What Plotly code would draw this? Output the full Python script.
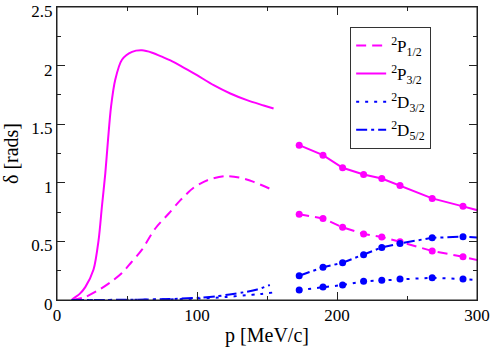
import plotly.graph_objects as go

# ---- smooth (low-momentum) curves ----
p_p32 = [10.5, 11.9, 16, 20.2, 26.1, 29.7, 32.1, 34.5, 36.4, 38.6, 41.6, 46.4, 53.6, 60.7, 68, 76, 82, 88, 100, 111.9, 123.8, 135.7, 147.6, 154.7]
d_p32 = [0.0, 0.015, 0.05, 0.11, 0.26, 0.51, 0.80, 1.08, 1.36, 1.65, 1.88, 2.05, 2.117, 2.13, 2.11, 2.07, 2.038, 2.0, 1.918, 1.833, 1.762, 1.705, 1.66, 1.634]

p_p12 = [10.5, 20, 29.7, 38, 46.4, 53, 60.7, 70.2, 80, 88, 97.8, 108, 120, 130, 140, 152]
d_p12 = [0.0, 0.025, 0.085, 0.15, 0.23, 0.32, 0.43, 0.61, 0.74, 0.85, 0.96, 1.025, 1.057, 1.045, 1.01, 0.95]

p_d32 = [10.5, 50, 80, 100, 120, 135, 145, 155]
d_d32 = [0.0, 0.001, 0.005, 0.012, 0.025, 0.04, 0.05, 0.065]

p_d52 = [10.5, 50, 80, 100, 114, 133, 143, 152]
d_d52 = [0.0, 0.002, 0.008, 0.018, 0.032, 0.065, 0.09, 0.128]

# ---- high-momentum points ----
p_pts = [173, 190, 204, 219, 232, 245, 268, 290, 310]
pts_p32 = [1.321, 1.236, 1.128, 1.071, 1.037, 0.978, 0.867, 0.799, 0.735]
pts_p12 = [0.731, 0.696, 0.620, 0.563, 0.537, 0.497, 0.418, 0.369, 0.313]
pts_d32 = [0.085, 0.111, 0.128, 0.159, 0.168, 0.179, 0.190, 0.179, 0.161]
pts_d52 = [0.207, 0.279, 0.318, 0.386, 0.449, 0.483, 0.531, 0.540, 0.528]

names = ["<sup>2</sup>P<sub>1/2</sub>", "<sup>2</sup>P<sub>3/2</sub>",
         "<sup>2</sup>D<sub>3/2</sub>", "<sup>2</sup>D<sub>5/2</sub>"]

MAG = "#ff00ff"
BLU = "#0000ff"
FONT = "Liberation Serif"

styles = [
    (MAG, "10px,6px"),
    (MAG, "solid"),
    (BLU, "3px,6px"),
    (BLU, "11px,4px,3px,4px"),
]
curves = [(p_p12, d_p12), (p_p32, d_p32), (p_d32, d_d32), (p_d52, d_d52)]
points = [pts_p12, pts_p32, pts_d32, pts_d52]

fig = go.Figure()
for i, ((px, py), (col, dash), nm) in enumerate(zip(curves, styles, names)):
    fig.add_trace(go.Scatter(
        x=px, y=py, mode="lines", name=nm,
        line=dict(color=col, width=2, dash=dash, shape="spline", smoothing=0.8),
        legendgroup=f"g{i}", showlegend=True))
for i, (py, (col, dash)) in enumerate(zip(points, styles)):
    fig.add_trace(go.Scatter(
        x=p_pts, y=py, mode="lines+markers", line=dict(color=col, width=2, dash=dash),
        marker=dict(color=col, size=7, line=dict(width=0)),
        legendgroup=f"g{i}", showlegend=False))

axis_common = dict(
    showline=True, linecolor="#222", linewidth=1, mirror="ticks",
    ticks="inside", ticklen=8, tickwidth=1, tickcolor="#222",
    showgrid=False, zeroline=False, automargin=False,
    ticklabeloverflow="allow",
    tickfont=dict(family=FONT, size=17, color="black"),
)

fig.update_layout(
    width=491, height=349,
    margin=dict(l=57, r=14, t=7, b=49),
    paper_bgcolor="white", plot_bgcolor="white",
    font=dict(family=FONT, color="black"),
    xaxis=dict(range=[0, 300], dtick=100, tick0=0,
               minor=dict(dtick=50, ticks="inside", ticklen=4, tickcolor="#222", showgrid=False),
               title=dict(text="p [MeV/c]", font=dict(family=FONT, size=20), standoff=3),
               **axis_common),
    yaxis=dict(range=[0, 2.5], dtick=0.5, tick0=0, ticklabelshift=4,
               minor=dict(dtick=0.25, ticks="inside", ticklen=4, tickcolor="#222", showgrid=False),
               title=dict(text="δ [rads]", font=dict(family=FONT, size=20), standoff=8),
               **axis_common),
    legend=dict(x=0.698, y=0.932, xanchor="left", yanchor="top",
                bordercolor="#333", borderwidth=1, bgcolor="white",
                font=dict(family=FONT, size=17), tracegroupgap=3,
                itemwidth=30),
    showlegend=True,
    shapes=[dict(type="rect", xref="paper", yref="paper", x0=0, x1=1, y0=0, y1=1,
                 line=dict(color="#222", width=1), layer="above")],
)

fig.write_html("out.html", config={"displayModeBar": False},
               post_script="document.body.style.margin='0';document.body.style.padding='0';")
